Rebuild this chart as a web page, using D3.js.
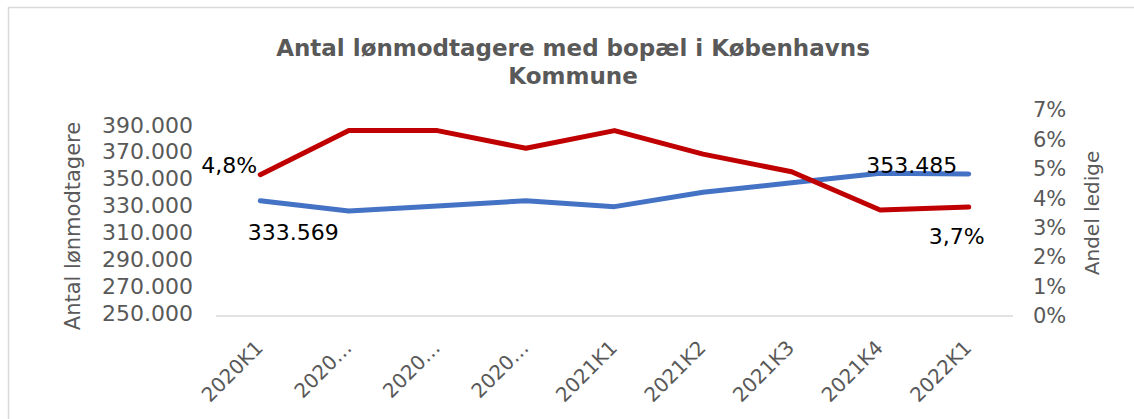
<!DOCTYPE html>
<html>
<head>
<meta charset="utf-8">
<script src="https://cdn.jsdelivr.net/npm/d3@7"></script>
<style>
  body { margin: 0; background: #fff; }
  svg { font-family: "DejaVu Sans", sans-serif; }
</style>
</head>
<body>
<div id="chart"></div>
<script>
// data
const quarters = ["2020K1", "2020K2", "2020K3", "2020K4", "2021K1", "2021K2", "2021K3", "2021K4", "2022K1"];
const tickLabels = ["2020K1", "2020…", "2020…", "2020…", "2021K1", "2021K2", "2021K3", "2021K4", "2022K1"];
const employees = [333569, 326000, 329700, 333600, 329200, 339900, 347000, 354000, 353485];
const unemployed = [0.048, 0.063, 0.063, 0.057, 0.063, 0.055, 0.049, 0.036, 0.037];
const leftTicks = [250000, 270000, 290000, 310000, 330000, 350000, 370000, 390000];
const rightTicks = [0, 0.01, 0.02, 0.03, 0.04, 0.05, 0.06, 0.07];

const width = 1134,
    height = 419,
    grey = "#595959",
    blue = "#4472C4",
    red = "#C00000";

const svg = d3.select("#chart").append("svg")
    .attr("width", width)
    .attr("height", height);

// outer frame (only top and left edge visible)
svg.append("rect")
    .attr("x", 8.5).attr("y", 7.5)
    .attr("width", 1300).attr("height", 600)
    .attr("fill", "none")
    .attr("stroke", "#d9d9d9")
    .attr("stroke-width", 1.5);

const x = d3.scaleBand()
    .domain(quarters)
    .range([216, 1013]);

const yLeft = d3.scaleLinear()
    .domain([250000, 390000])
    .range([313, 125]);

const yRight = d3.scaleLinear()
    .domain([0, 0.07])
    .range([316, 110]);

const cx = q => x(q) + x.bandwidth() / 2;

// title
const title = svg.append("text")
    .attr("text-anchor", "middle")
    .attr("fill", grey)
    .attr("font-size", 23)
    .attr("font-weight", "bold");
title.append("tspan").attr("x", 573).attr("y", 56).text("Antal lønmodtagere med bopæl i Københavns");
title.append("tspan").attr("x", 573).attr("y", 84).text("Kommune");

// x axis
svg.append("line")
    .attr("x1", 216).attr("x2", 1013)
    .attr("y1", 316).attr("y2", 316)
    .attr("stroke", "#d9d9d9")
    .attr("stroke-width", 1.5);

svg.append("g").selectAll("text")
    .data(quarters)
    .join("text")
    .attr("transform", d => `translate(${cx(d) + 4},${349}) rotate(-45)`)
    .attr("text-anchor", "end")
    .attr("fill", grey)
    .attr("font-size", 20)
    .text((d, i) => tickLabels[i]);

// left axis
const gl = svg.append("g")
    .attr("transform", "translate(193,0)")
    .call(d3.axisLeft(yLeft)
        .tickValues(leftTicks)
        .tickSize(0)
        .tickPadding(0)
        .tickFormat(d => d3.format(",")(d).replace(/,/g, ".")));
gl.select(".domain").remove();
gl.selectAll("text")
    .attr("fill", grey)
    .attr("font-size", 22)
    .attr("font-family", "DejaVu Sans, sans-serif");

// right axis
const gr = svg.append("g")
    .attr("transform", "translate(1033,0)")
    .call(d3.axisRight(yRight)
        .tickValues(rightTicks)
        .tickSize(0)
        .tickPadding(0)
        .tickFormat(d3.format(".0%")));
gr.select(".domain").remove();
gr.selectAll("text")
    .attr("fill", grey)
    .attr("font-size", 21)
    .attr("font-family", "DejaVu Sans, sans-serif");

// axis titles
svg.append("text")
    .attr("transform", "translate(73,226) rotate(-90)")
    .attr("text-anchor", "middle")
    .attr("dominant-baseline", "central")
    .attr("fill", grey)
    .attr("font-size", 21)
    .text("Antal lønmodtagere");

svg.append("text")
    .attr("transform", "translate(1092,213) rotate(-90)")
    .attr("text-anchor", "middle")
    .attr("dominant-baseline", "central")
    .attr("fill", grey)
    .attr("font-size", 20)
    .text("Andel ledige");

// lines
const lineLeft = d3.line()
    .x((d, i) => cx(quarters[i]))
    .y(d => yLeft(d));

const lineRight = d3.line()
    .x((d, i) => cx(quarters[i]))
    .y(d => yRight(d));

svg.append("path")
    .attr("d", lineLeft(employees))
    .attr("fill", "none")
    .attr("stroke", blue)
    .attr("stroke-width", 5)
    .attr("stroke-linecap", "round")
    .attr("stroke-linejoin", "round");

svg.append("path")
    .attr("d", lineRight(unemployed))
    .attr("fill", "none")
    .attr("stroke", red)
    .attr("stroke-width", 5)
    .attr("stroke-linecap", "round")
    .attr("stroke-linejoin", "round");

// data labels
const numFmt = d => d3.format(",")(d).replace(/,/g, ".");
const pctFmt = d => d3.format(".1%")(d).replace(".", ",");
const last = quarters.length - 1;

const labels = [
    { x: cx(quarters[0]) - 3, y: yRight(unemployed[0]) - 2, anchor: "end", text: pctFmt(unemployed[0]) },
    { x: cx(quarters[0]) + 33, y: yLeft(employees[0]) + 39, anchor: "middle", text: numFmt(employees[0]) },
    { x: cx(quarters[last]) - 57, y: yLeft(employees[last]) - 1, anchor: "middle", text: numFmt(employees[last]) },
    { x: cx(quarters[last]) - 12, y: yRight(unemployed[last]) + 37, anchor: "middle", text: pctFmt(unemployed[last]) }
];

svg.append("g").selectAll("text")
    .data(labels)
    .join("text")
    .attr("x", d => d.x)
    .attr("y", d => d.y)
    .attr("text-anchor", d => d.anchor)
    .attr("fill", "#000")
    .attr("font-size", 22)
    .text(d => d.text);
</script>
</body>
</html>
